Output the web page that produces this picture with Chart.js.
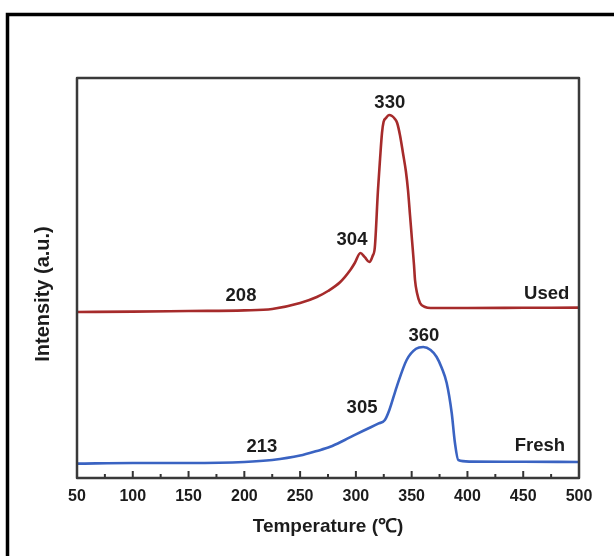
<!DOCTYPE html>
<html>
<head>
<meta charset="utf-8">
<script src="https://cdn.jsdelivr.net/npm/chart.js@4/dist/chart.umd.min.js"></script>
<style>
  html, body { margin: 0; padding: 0; background: #fff; }
  #wrap { position: relative; width: 614px; height: 556px; }
</style>
</head>
<body>
<div id="wrap"><canvas id="c" width="614" height="556"></canvas></div>
<script>
// ---- data ----
const usedT = [50, 100, 150, 200, 225, 250, 265, 275, 286, 295, 299, 304, 308, 312, 315, 317, 319.8, 321.6, 323.4, 324.8, 327, 329.7, 332.4, 335, 337, 339.5, 342.2, 344.9, 346.7, 348.5, 350.3, 352.1, 353, 354.8, 357.5, 362, 367, 400, 450, 500];
const usedI = [41.5, 41.6, 41.75, 41.9, 42.25, 43.75, 45.25, 46.75, 49, 52, 53.75, 56.25, 55.2, 54, 55.5, 57.75, 72, 79.5, 86.25, 89, 90, 90.75, 90.5, 89.75, 88.75, 85.75, 81.25, 76.5, 72, 65.75, 59.5, 53.25, 49.5, 46.25, 43.75, 42.75, 42.5, 42.5, 42.55, 42.6];
const freshT = [50, 100, 150, 200, 225, 250, 265, 277, 290, 300, 310, 320, 326, 330, 336.6, 345.5, 353.9, 360.4, 367, 372.4, 377, 381.4, 385.9, 388.8, 391.8, 402, 450, 500];
const freshI = [3.6, 3.75, 3.75, 4, 4.5, 5.6, 6.75, 7.8, 9.5, 10.9, 12.25, 13.6, 14.5, 17, 22.8, 29.5, 32.3, 32.75, 32, 30.25, 27.5, 23.75, 16.25, 8.75, 4.5, 4.1, 4.05, 4.0];
const seriesNames = ['Used', 'Fresh'];
const xTickValues = [50, 100, 150, 200, 250, 300, 350, 400, 450, 500];
const labelTexts = ['330', '304', '208', 'Used', '360', '305', '213', 'Fresh'];
const labelT = [330.4, 296.5, 197, 471, 361, 305.5, 215.8, 465];
const labelI = [93.75, 59.5, 45.5, 46, 35.5, 17.5, 7.75, 8];
const xTitle = 'Temperature (\u2103)';
const yTitle = 'Intensity (a.u.)';

const FONT = "'Liberation Sans', Arial, sans-serif";
const TXT = '#1c1c1c';

const toPts = (xs, ys) => xs.map((x, i) => ({ x: x, y: ys[i] }));

const framePlugin = {
  id: 'frame',
  beforeDraw(chart) {
    const ctx = chart.ctx;
    ctx.save();
    ctx.strokeStyle = '#000';
    ctx.lineWidth = 3.5;
    ctx.strokeRect(7.5, 14.5, 800, 800);
    ctx.restore();
  },
  afterDatasetsDraw(chart) {
    const { ctx, chartArea: a, scales } = chart;
    const xs = scales.x, ys = scales.y;
    ctx.save();
    // inward tick marks
    ctx.strokeStyle = '#333';
    ctx.lineWidth = 2;
    xs.ticks.forEach(t => {
      const px = xs.getPixelForValue(t.value);
      const major = xTickValues.includes(t.value);
      const len = major ? 7 : 4;
      ctx.beginPath();
      ctx.moveTo(px, a.bottom);
      ctx.lineTo(px, a.bottom - len);
      ctx.stroke();
    });
    // axis box
    ctx.strokeStyle = '#3a3a3a';
    ctx.lineWidth = 2.5;
    ctx.lineJoin = 'round';
    ctx.strokeRect(a.left, a.top, a.right - a.left, a.bottom - a.top);
    // peak labels
    ctx.fillStyle = TXT;
    ctx.font = 'bold 18.5px ' + FONT;
    ctx.textAlign = 'center';
    ctx.textBaseline = 'middle';
    labelTexts.forEach((s, i) => {
      ctx.fillText(s, xs.getPixelForValue(labelT[i]), ys.getPixelForValue(labelI[i]));
    });
    // y title
    ctx.translate(43, 294);
    ctx.rotate(-Math.PI / 2);
    ctx.font = 'bold 20px ' + FONT;
    ctx.fillText(yTitle, 0, 0);
    ctx.restore();
  }
};

new Chart(document.getElementById('c'), {
  type: 'line',
  data: {
    datasets: [
      { label: seriesNames[0], data: toPts(usedT, usedI), borderColor: '#a62b2b', borderWidth: 2.6, pointRadius: 0, cubicInterpolationMode: 'monotone', fill: false },
      { label: seriesNames[1], data: toPts(freshT, freshI), borderColor: '#3a63c2', borderWidth: 2.6, pointRadius: 0, cubicInterpolationMode: 'monotone', fill: false }
    ]
  },
  options: {
    responsive: false,
    animation: false,
    events: [],
    layout: { padding: { left: 0, top: 78, right: 35, bottom: 0 } },
    plugins: { legend: { display: false }, tooltip: { enabled: false } },
    scales: {
      x: {
        type: 'linear',
        min: 50, max: 500,
        grid: { display: false },
        border: { display: false },
        ticks: {
          stepSize: 25,
          autoSkip: false,
          maxRotation: 0,
          padding: 1,
          color: TXT,
          font: { family: FONT, size: 16, weight: 'bold' },
          callback: v => xTickValues.includes(v) ? String(v) : ''
        },
        title: {
          display: true,
          text: xTitle,
          color: TXT,
          font: { family: FONT, size: 19, weight: 'bold' },
          padding: { top: 0, bottom: 17.5 }
        },
        afterFit(s) { s.height = 78; }
      },
      y: {
        type: 'linear',
        min: 0, max: 100,
        grid: { display: false },
        border: { display: false },
        ticks: { display: false },
        afterFit(s) { s.width = 77; }
      }
    }
  },
  plugins: [framePlugin]
});
</script>
</body>
</html>
